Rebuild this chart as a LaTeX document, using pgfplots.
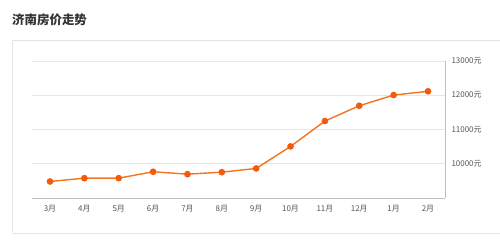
\documentclass[border=0pt]{standalone}
\usepackage{pgfplots}
\pgfplotsset{compat=1.18}
\usepackage{fontspec}
\setmainfont{Noto Sans CJK SC}
\definecolor{lineor}{HTML}{F5751F}
\definecolor{markor}{HTML}{F25A0C}
\definecolor{gridc}{HTML}{E6E6E6}
\definecolor{panelc}{HTML}{E4E4E4}
\definecolor{tickc}{HTML}{555555}
\definecolor{titlec}{HTML}{333333}
\begin{document}
\begin{tikzpicture}[x=1bp,y=1bp]
\useasboundingbox[fill=white] (0,0) rectangle (500,251);
% panel
\draw[panelc, line width=1bp] (12.5,18) -- (12.5,211) -- (500,211);
\draw[panelc, line width=1bp] (12.5,18) -- (500,18);
\node[anchor=west, font=\fontsize{12.5}{14}\selectfont\bfseries, text=titlec, inner sep=0pt] at (12,231) {济南房价走势};
\begin{axis}[
  at={(32bp,53bp)}, anchor=south west,
  width=413bp, height=137bp, scale only axis,
  xmin=-0.524, xmax=11.495,
  ymin=9000, ymax=13000,
  scaled y ticks=false,
  axis x line*=bottom, axis y line*=right,
  axis line style={draw=gridc!80!black!90, line width=0.8bp},
  ymajorgrids, major grid style={draw=gridc, line width=0.8bp},
  xtick={0,...,11},
  xticklabels={3月,4月,5月,6月,7月,8月,9月,10月,11月,12月,1月,2月},
  ytick={10000,11000,12000,13000},
  yticklabels={10000元,11000元,12000元,13000元},
  major tick length=0pt,
  tick label style={font=\fontsize{8}{9}\selectfont, text=tickc},
  xticklabel style={yshift=-4bp},
  yticklabel style={xshift=3bp},
  clip=false,
]
\addplot[lineor, line width=1.4bp, mark=*, mark size=2.6bp, mark options={fill=markor, draw=markor}]
coordinates {
(0,9482) (1,9579) (2,9579) (3,9766) (4,9696) (5,9754) (6,9863) (7,10506) (8,11246) (9,11693) (10,12005) (11,12115)
};
\end{axis}
\end{tikzpicture}
\end{document}
